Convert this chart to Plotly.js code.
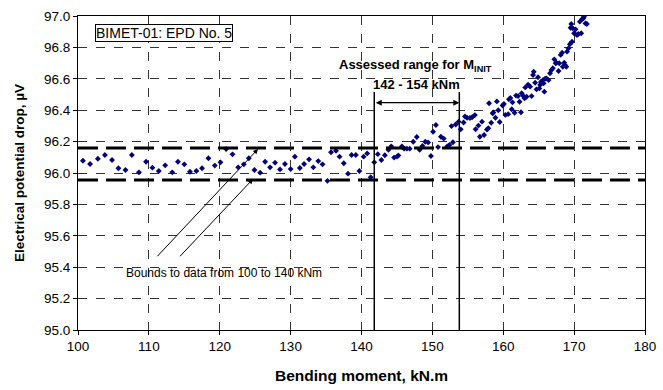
<!DOCTYPE html>
<html>
<head>
<meta charset="utf-8">
<script src="https://cdn.plot.ly/plotly-3.0.1.min.js"></script>
<style>html,body{margin:0;padding:0;background:#fff}#chart{width:663px;height:390px}</style>
</head>
<body>
<div id="chart"></div>
<script>
// Bending moment (kN.m)
const moment = [
100.7,101.7,102.8,103.8,104.8,105.7,106.7,107.6,108.6,109.6,
110.5,111.4,112.3,113.3,114.1,115.0,115.8,116.7,117.5,118.4,
119.3,120.1,120.9,121.8,122.6,123.4,124.1,124.9,125.7,126.4,
127.1,127.8,128.5,129.2,130.0,130.6,131.3,131.9,132.6,133.2,
133.9,134.5,135.2,135.7,136.4,136.9,137.5,138.1,138.6,139.2,
139.7,140.3,140.8,141.3,141.8,142.3,142.8,143.3,143.8,144.2,
144.6,145.0,145.2,145.7,146.0,146.4,146.8,147.3,147.8,148.2,
148.6,149.0,149.4,149.8,150.1,150.5,150.8,151.2,151.6,152.1,
152.4,152.7,152.9,153.3,153.7,154.0,154.4,154.6,154.9,155.3,
155.6,156.0,156.1,156.5,156.7,157.0,157.3,157.7,157.9,158.0,
158.3,158.5,158.6,158.9,159.1,159.3,159.5,159.9,160.1,160.3,
160.7,160.8,161.0,161.2,161.3,161.6,161.8,162.1,162.3,162.5,
162.6,162.8,163.0,163.1,163.3,163.5,163.8,164.0,164.2,164.3,
164.5,164.7,164.9,165.1,165.2,165.3,165.6,165.7,165.8,165.9,
166.1,166.4,166.6,166.8,167.0,167.2,167.4,167.5,167.8,167.9,
168.1,168.3,168.4,168.6,168.7,168.9,169.0,169.2,169.4,169.5,
169.6,169.7,169.8,170.0,170.2,170.4,170.6,170.8,171.0,171.1,
171.3,171.4,171.6,171.8
];
// Electrical potential drop (µV)
const epd = [
96.078,96.057,96.091,96.115,96.083,96.030,96.019,96.115,96.004,96.072,
96.034,96.013,96.049,96.004,96.072,96.055,96.008,96.013,96.030,96.094,
96.047,96.068,96.153,96.119,96.036,96.055,96.094,96.019,96.002,96.072,
96.036,96.066,96.023,96.057,96.025,96.104,96.032,96.057,96.087,96.036,
96.076,96.055,95.950,96.132,96.142,96.104,96.062,95.996,96.115,96.115,
96.013,96.104,96.125,95.973,96.068,96.120,96.083,96.113,96.148,96.170,
96.098,96.104,96.112,96.170,96.155,96.155,96.155,96.199,96.229,96.148,
96.172,96.199,96.195,96.108,96.263,96.306,96.165,96.231,96.219,96.170,
96.178,96.299,96.196,96.309,96.327,96.278,96.322,96.360,96.352,96.350,
96.355,96.369,96.279,96.302,96.231,96.327,96.242,96.277,96.285,96.444,
96.320,96.380,96.385,96.352,96.456,96.400,96.325,96.430,96.440,96.370,
96.375,96.469,96.478,96.406,96.450,96.384,96.493,96.490,96.454,96.387,
96.508,96.492,96.476,96.545,96.486,96.563,96.550,96.490,96.624,96.645,
96.575,96.533,96.610,96.539,96.561,96.580,96.592,96.571,96.518,96.600,
96.603,96.592,96.635,96.656,96.667,96.724,96.699,96.703,96.650,96.699,
96.752,96.766,96.677,96.703,96.688,96.677,96.773,96.794,96.820,96.925,
96.949,96.836,96.922,96.890,96.915,96.879,96.885,96.964,96.890,96.979,
96.985,96.995,96.953,96.949
];
const boundLevels = [96.16, 95.955];   // bounds to data from 100 to 140 kNm
const rangeLimits = [141.8, 153.8];    // assessed range for M_INIT
const xTicks = [100,110,120,130,140,150,160,170,180];
const yTicks = [95.0,95.2,95.4,95.6,95.8,96.0,96.2,96.4,96.6,96.8,97.0];

const font = 'Arial, "Liberation Sans", sans-serif';

const shapes = [];
boundLevels.forEach(v => shapes.push({
  type:'line', xref:'x', yref:'y', x0:100, x1:180, y0:v, y1:v,
  line:{color:'#000', width:3, dash:'20px,8px'}
}));
rangeLimits.forEach(v => shapes.push({
  type:'line', xref:'x', yref:'y', x0:v, x1:v, y0:95.0, y1:96.516,
  line:{color:'#000', width:1.5}
}));

const annotations = [
  {xref:'x', yref:'y', x:112.2, y:96.89, text:'BIMET-01: EPD No. 5', showarrow:false,
   font:{family:font, size:14, color:'#000'}, bordercolor:'#000', borderwidth:1, borderpad:0, bgcolor:'#fff'},
  {xref:'x', yref:'y', x:147.6, y:96.685, text:'Assessed range for M<sub>INIT</sub>', showarrow:false,
   font:{family:font, size:13, color:'#000', weight:'bold'}},
  {xref:'x', yref:'y', x:147.8, y:96.565, text:'<b>142 - 154 kNm</b>', showarrow:false,
   font:{family:font, size:13, color:'#000'}},
  {xref:'x', yref:'y', x:rangeLimits[1], y:96.448, ax:rangeLimits[0], ay:96.448, axref:'x', ayref:'y',
   text:'', showarrow:true, arrowhead:2, startarrowhead:2, arrowside:'end+start', arrowsize:1, arrowwidth:1.2, arrowcolor:'#000', standoff:0, startstandoff:0},
  {xref:'x', yref:'y', x:120.6, y:95.36, text:'Bounds to data from 100 to 140 kNm', showarrow:false,
   font:{family:font, size:12, color:'#000'}},
  {xref:'x', yref:'y', x:125.4, y:96.153, ax:111.0, ay:95.46, axref:'x', ayref:'y',
   text:'', showarrow:true, arrowhead:2, arrowsize:1, arrowwidth:1, arrowcolor:'#000', standoff:0},
  {xref:'x', yref:'y', x:124.7, y:95.962, ax:114.2, ay:95.46, axref:'x', ayref:'y',
   text:'', showarrow:true, arrowhead:2, arrowsize:1, arrowwidth:1, arrowcolor:'#000', standoff:0}
];

const trace = {
  x: moment, y: epd, type:'scatter', mode:'markers',
  marker:{symbol:'diamond', size:4.5, color:'#00007a'},
  cliponaxis:true, hoverinfo:'skip'
};

const layout = {
  width:663, height:390,
  margin:{l:78, r:18, t:16, b:60},
  paper_bgcolor:'#fff', plot_bgcolor:'#fff',
  showlegend:false,
  font:{family:font, size:13, color:'#000'},
  xaxis:{
    range:[100,180], tickvals:xTicks, ticktext:xTicks.map(String),
    showline:true, linecolor:'#000', linewidth:1, mirror:true,
    ticks:'outside', ticklen:4, tickcolor:'#000',
    showgrid:true, gridcolor:'#333', griddash:'dash', gridwidth:1,
    zeroline:false, tickfont:{family:font, size:13.5, color:'#000'},
    title:{text:'Bending moment, kN.m', font:{family:font, size:15.5, color:'#000', weight:'bold'}, standoff:16}
  },
  yaxis:{
    range:[95,97], tickvals:yTicks, ticktext:yTicks.map(v=>v.toFixed(1)),
    showline:true, linecolor:'#000', linewidth:1, mirror:true,
    ticks:'outside', ticklen:4, tickcolor:'#000',
    showgrid:true, gridcolor:'#333', griddash:'dash', gridwidth:1,
    zeroline:false, tickfont:{family:font, size:13.5, color:'#000'},
    title:{text:'Electrical potential drop, µV', font:{family:font, size:13.5, color:'#000', weight:'bold'}, standoff:16}
  },
  shapes:shapes,
  annotations:annotations
};

Plotly.newPlot('chart', [trace], layout, {displayModeBar:false, staticPlot:true});
</script>
</body>
</html>
